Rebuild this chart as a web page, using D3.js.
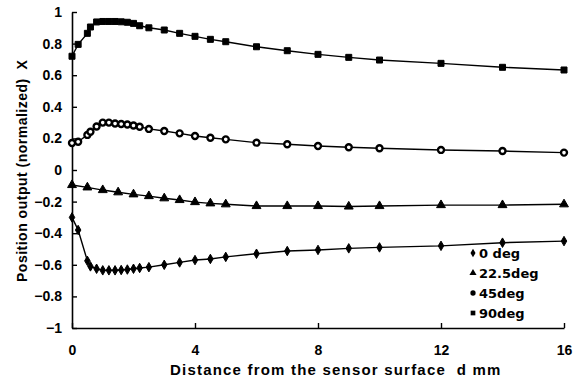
<!DOCTYPE html>
<html>
<head>
<meta charset="utf-8">
<script src="https://cdn.jsdelivr.net/npm/d3@7"></script>
<style>
  body { margin: 0; background: #fff; }
  svg { display: block; }
  .tick text { font-family: "Liberation Sans", Arial, sans-serif; font-weight: bold; font-size: 14px; fill: #000; }
  .title { font-family: "Liberation Sans", Arial, sans-serif; font-weight: bold; white-space: pre; fill: #000; }
  .legend text { font-family: "DejaVu Sans", sans-serif; font-weight: bold; font-size: 13px; fill: #000; }
</style>
</head>
<body>
<svg id="chart" width="581" height="386"></svg>
<script>
// distances (mm) used for 0, 45 and 90 deg
var distance = [0, 0.2, 0.5, 0.6, 0.8, 1.0, 1.2, 1.4, 1.6, 1.8, 2.0, 2.2, 2.5, 3, 3.5, 4, 4.5, 5, 6, 7, 8, 9, 10, 12, 14, 16];
// distances for 22.5 deg
var distance22 = [0, 0.5, 1, 1.5, 2, 2.5, 3, 3.5, 4, 4.5, 5, 6, 7, 8, 9, 10, 12, 14, 16];

var deg0 = [-0.30, -0.38, -0.575, -0.61, -0.625, -0.635, -0.635, -0.635, -0.633, -0.63, -0.625, -0.62, -0.615,
            -0.60, -0.585, -0.57, -0.563, -0.55, -0.53, -0.513, -0.506, -0.496, -0.49, -0.48, -0.46, -0.45];
var deg22 = [-0.095, -0.11, -0.127, -0.141, -0.154, -0.165, -0.179, -0.19, -0.203, -0.211, -0.217,
             -0.228, -0.228, -0.228, -0.231, -0.228, -0.222, -0.222, -0.217];
var deg45 = [0.171, 0.179, 0.222, 0.242, 0.275, 0.30, 0.30, 0.294, 0.291, 0.288, 0.282, 0.274, 0.26,
             0.247, 0.232, 0.215, 0.204, 0.194, 0.173, 0.163, 0.152, 0.144, 0.138, 0.127, 0.12, 0.11];
var deg90 = [0.72, 0.795, 0.865, 0.905, 0.937, 0.94, 0.94, 0.94, 0.938, 0.935, 0.928, 0.913, 0.90,
             0.886, 0.865, 0.846, 0.827, 0.812, 0.78, 0.755, 0.732, 0.713, 0.696, 0.675, 0.65, 0.633];

var seriesNames = ["0 deg", "22.5deg", "45deg", "90deg"];
var xTicks = [0, 4, 8, 12, 16];

var series = [
    {name: seriesNames[0], xs: distance, ys: deg0, symbol: d3.symbolDiamond, size: 26},
    {name: seriesNames[1], xs: distance22, ys: deg22, symbol: d3.symbolTriangle, size: 34},
    {name: seriesNames[2], xs: distance, ys: deg45, symbol: d3.symbolCircle, size: 28},
    {name: seriesNames[3], xs: distance, ys: deg90, symbol: d3.symbolSquare, size: 36}
];

var svg = d3.select("#chart");

var x = d3.scaleLinear().domain([0, 16]).range([72, 564]);
var y = d3.scaleLinear().domain([-1, 1]).range([328, 12]);

// axes, ticks pointing into the plot
var yAxis = d3.axisLeft(y)
    .tickValues(d3.range(-5, 6).map(function (i) { return i / 5; }))
    .tickFormat(d3.format(".1~f"))
    .tickSizeInner(-5).tickSizeOuter(0).tickPadding(10);

var xAxis = d3.axisBottom(x)
    .tickValues(xTicks)
    .tickFormat(d3.format("d"))
    .tickSizeInner(-5).tickSizeOuter(0).tickPadding(17);

var gy = svg.append("g").attr("transform", "translate(72,0)").call(yAxis);
var gx = svg.append("g").attr("transform", "translate(0,328)").call(xAxis);

[gx, gy].forEach(function (g) {
    g.select(".domain").attr("stroke", "#000").attr("stroke-width", 1.6);
    g.selectAll(".tick line").attr("stroke", "#000").attr("stroke-width", 1.4);
    g.attr("font-family", null).attr("font-size", null);
});

// lines + markers
var line = d3.line()
    .x(function (d) { return x(d[0]); })
    .y(function (d) { return y(d[1]); });

series.forEach(function (s) {
    var pts = s.xs.map(function (v, i) { return [v, s.ys[i]]; });

    svg.append("path")
        .datum(pts)
        .attr("d", line)
        .attr("fill", "none")
        .attr("stroke", "#000")
        .attr("stroke-width", 1.4);

    var isCircle = s.symbol === d3.symbolCircle;
    svg.append("g").selectAll("path")
        .data(pts)
        .enter().append("path")
        .attr("transform", function (d) { return "translate(" + x(d[0]) + "," + y(d[1]) + ")"; })
        .attr("d", d3.symbol().type(s.symbol).size(s.size))
        .attr("fill", isCircle ? "#fff" : "#000")
        .attr("stroke", "#000")
        .attr("stroke-width", isCircle ? 2.4 : 1);
});

// legend
var legend = svg.append("g").attr("class", "legend");
series.forEach(function (s, i) {
    var row = legend.append("g").attr("transform", "translate(473," + (253 + i * 20) + ")");
    row.append("path")
        .attr("d", d3.symbol().type(s.symbol).size(22))
        .attr("fill", "#000");
    row.append("text")
        .attr("x", 6)
        .attr("dy", "0.36em")
        .text(s.name);
});

// axis titles
svg.append("text")
    .attr("class", "title")
    .attr("x", 170)
    .attr("y", 375)
    .attr("font-size", 15)
    .attr("letter-spacing", 1.2)
    .text("Distance from the sensor surface  d mm");

svg.append("text")
    .attr("class", "title")
    .attr("transform", "translate(27,282) rotate(-90)")
    .attr("font-size", 14)
    .attr("letter-spacing", 0.5)
    .text("Position output (normalized)  X");
</script>
</body>
</html>
